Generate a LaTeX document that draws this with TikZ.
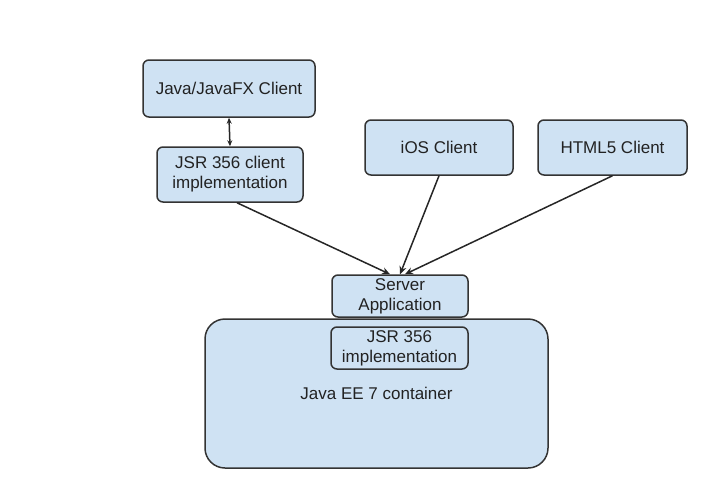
\documentclass[tikz,border=0pt]{standalone}
\usepackage{fontspec}
\setmainfont{Liberation Sans}
\usetikzlibrary{arrows.meta}
\definecolor{boxfill}{HTML}{CFE2F3}
\definecolor{boxline}{HTML}{333333}
\definecolor{txt}{HTML}{222222}
\begin{document}
\begin{tikzpicture}[x=1pt,y=-1pt,
  box/.style={draw=boxline,fill=boxfill,line width=1.5pt,rounded corners=6pt,
    align=center,inner sep=0pt,text=txt,font=\fontsize{17}{20}\selectfont},
  arr/.style={draw=black!85,line width=1.5pt,-{Stealth[length=8pt,width=7pt]}},
  darr/.style={draw=black!85,line width=1.5pt,{Stealth[length=6pt,width=5pt]}-{Stealth[length=6pt,width=5pt]}}]
\useasboundingbox (0,0) rectangle (720,491);
\node[box,rounded corners=20pt,minimum width=343pt,minimum height=149pt] (cont) at (376.5,393.5) {Java EE 7 container};
\node[box,minimum width=172pt,minimum height=57pt] (jfx) at (229,88.5) {Java/JavaFX Client};
\node[box,minimum width=146pt,minimum height=55pt] (jsrc) at (230,174.5) {JSR 356 client\\implementation};
\node[box,minimum width=148pt,minimum height=55pt] (ios) at (439,147.5) {iOS Client};
\node[box,minimum width=149pt,minimum height=55pt] (html) at (612.5,147.5) {HTML5 Client};
\node[box,minimum width=136pt,minimum height=42pt] (server) at (400,296) {Server\\Application};
\node[box,minimum width=137pt,minimum height=42pt] (jsri) at (399.5,348) {JSR 356\\implementation};
\draw[darr] (jfx.south) -- (jsrc.north);
\draw[arr] ([xshift=7pt]jsrc.south) -- ([xshift=-10pt]server.north);
\draw[arr] (ios.south) -- ([xshift=0pt]server.north);
\draw[arr] (html.south) -- ([xshift=5pt]server.north);
\end{tikzpicture}
\end{document}
